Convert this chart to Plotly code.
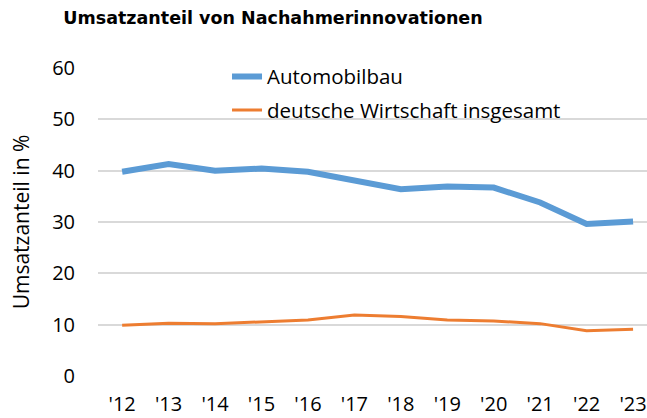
import plotly.graph_objects as go

years = ["'12", "'13", "'14", "'15", "'16", "'17", "'18", "'19", "'20", "'21", "'22", "'23"]
automobilbau = [39.8, 41.3, 40.0, 40.4, 39.8, 38.2, 36.4, 36.9, 36.7, 33.8, 29.6, 30.1]
gesamt = [9.9, 10.3, 10.2, 10.5, 10.9, 11.9, 11.6, 10.9, 10.7, 10.2, 8.8, 9.1]
y_ticks = [0, 10, 20, 30, 40, 50, 60]

FONT = "Open Sans"

fig = go.Figure()
fig.add_trace(go.Scatter(x=years, y=automobilbau, mode="lines", name="Automobilbau",
                         line=dict(color="#5B9BD5", width=6), legendgroup="a"))
fig.add_trace(go.Scatter(x=years, y=gesamt, mode="lines", name="deutsche Wirtschaft insgesamt",
                         line=dict(color="#ED7D31", width=3), legendgroup="b"))

fig.update_layout(
    width=647, height=418,
    margin=dict(l=98, r=0, t=68, b=42),
    paper_bgcolor="white", plot_bgcolor="white",
    title=dict(text="<b>Umsatzanteil von Nachahmerinnovationen</b>",
               font=dict(family="DejaVu Sans", size=17.5, color="black"),
               x=273/647, xanchor="center", y=1-18/418, yanchor="middle"),
    font=dict(family=FONT, size=18, color="black"),
    showlegend=True,
    legend=dict(x=0.235, xanchor="left", y=1.037, yanchor="top",
                bgcolor="rgba(0,0,0,0)", font=dict(family=FONT, size=20.5),
                tracegroupgap=4),
    xaxis=dict(type="category", range=[-0.52, 11.3], showgrid=False, zeroline=False,
               showline=False, ticks="outside", ticklen=10, tickcolor="rgba(0,0,0,0)",
               tickfont=dict(family=FONT, size=20)),
    yaxis=dict(range=[0, 60], tickvals=y_ticks, showgrid=True, gridcolor="#D9D9D9",
               gridwidth=1.5, zeroline=False, showline=False,
               ticks="outside", ticklen=18, tickcolor="rgba(0,0,0,0)",
               tickfont=dict(family=FONT, size=20),
               title=dict(text="Umsatzanteil in %", font=dict(family=FONT, size=21), standoff=16)),
)

fig.write_html("out.html", config={"displayModeBar": False},
               post_script="document.body.style.margin='0px';")
